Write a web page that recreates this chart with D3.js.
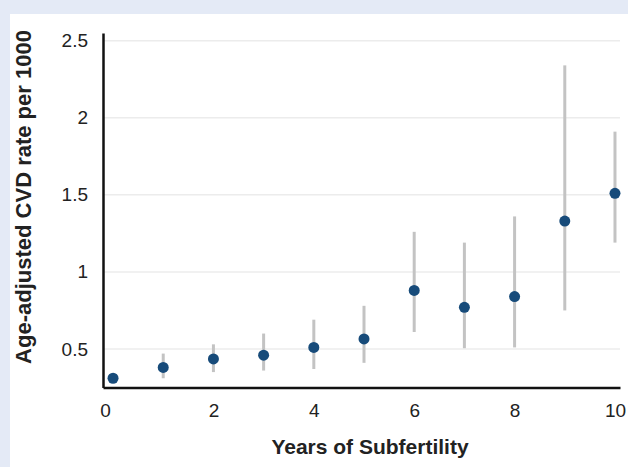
<!DOCTYPE html>
<html>
<head>
<meta charset="utf-8">
<script src="https://cdn.jsdelivr.net/npm/d3@7"></script>
<style>
  body { margin: 0; background: #e4eaf6; }
  svg { display: block; font-family: "Liberation Sans", Arial, sans-serif; }
</style>
</head>
<body>
<svg id="chart"></svg>
<script>
const years = [0, 1, 2, 3, 4, 5, 6, 7, 8, 9, 10];
const rate = [0.31, 0.38, 0.435, 0.46, 0.51, 0.565, 0.88, 0.77, 0.84, 1.33, 1.51];
const lower = [0.29, 0.31, 0.35, 0.36, 0.37, 0.41, 0.61, 0.505, 0.51, 0.75, 1.19];
const upper = [0.33, 0.47, 0.53, 0.60, 0.69, 0.78, 1.26, 1.19, 1.36, 2.34, 1.91];
const xTicks = [0, 2, 4, 6, 8, 10];
const yTicks = [0.5, 1, 1.5, 2, 2.5];

const width = 628, height = 467;

const svg = d3.select("#chart")
    .attr("width", width)
    .attr("height", height);

// white panel on the blue page
svg.append("rect")
    .attr("x", 10).attr("y", 14)
    .attr("width", width - 10).attr("height", height - 14)
    .attr("fill", "#fff");

const x = d3.scaleLinear().domain([-0.2, 10.1]).range([103, 620]);
const y = d3.scaleLinear().domain([0.25, 2.55]).range([387.5, 33]);

// gridlines
svg.append("g")
    .selectAll("line")
    .data(yTicks)
    .enter()
    .append("line")
    .attr("x1", x(-0.2)).attr("x2", x(10.1))
    .attr("y1", d => y(d)).attr("y2", d => y(d))
    .attr("stroke", "#ececec")
    .attr("stroke-width", 1.5);

// error bars
svg.append("g")
    .selectAll("line")
    .data(years)
    .enter()
    .append("line")
    .attr("x1", d => x(d)).attr("x2", d => x(d))
    .attr("y1", (d, i) => y(upper[i]))
    .attr("y2", (d, i) => y(lower[i]))
    .attr("stroke", "#c3c3c3")
    .attr("stroke-width", 3);

// points
svg.append("g")
    .selectAll("circle")
    .data(years)
    .enter()
    .append("circle")
    .attr("cx", d => x(d))
    .attr("cy", (d, i) => y(rate[i]))
    .attr("r", 5.5)
    .attr("fill", "#174b7a");

// axes
const yAxis = d3.axisLeft(y).tickValues(yTicks).tickSize(0).tickPadding(15)
    .tickFormat(d3.format("~g"));
const xAxis = d3.axisBottom(x).tickValues(xTicks).tickSize(0).tickPadding(16);

const gy = svg.append("g")
    .attr("transform", `translate(${x(-0.2)},0)`)
    .call(yAxis);
gy.select(".domain").attr("stroke", "#111").attr("stroke-width", 2.5);
gy.selectAll("text").attr("font-size", 19).attr("fill", "#222");

const gx = svg.append("g")
    .attr("transform", `translate(0,${y(0.25)})`)
    .call(xAxis);
gx.select(".domain").attr("stroke", "#111").attr("stroke-width", 2.5);
gx.selectAll("text").attr("font-size", 19).attr("fill", "#222")
    .attr("dx", d => d === 0 ? -8 : 0);

// titles
svg.append("text")
    .attr("x", 370).attr("y", 454)
    .attr("text-anchor", "middle")
    .attr("font-size", 21).attr("font-weight", "bold").attr("fill", "#222")
    .text("Years of Subfertility");

svg.append("text")
    .attr("transform", "translate(31,197) rotate(-90)")
    .attr("text-anchor", "middle")
    .attr("font-size", 22).attr("font-weight", "bold").attr("fill", "#222")
    .text("Age-adjusted CVD rate per 1000");
</script>
</body>
</html>
